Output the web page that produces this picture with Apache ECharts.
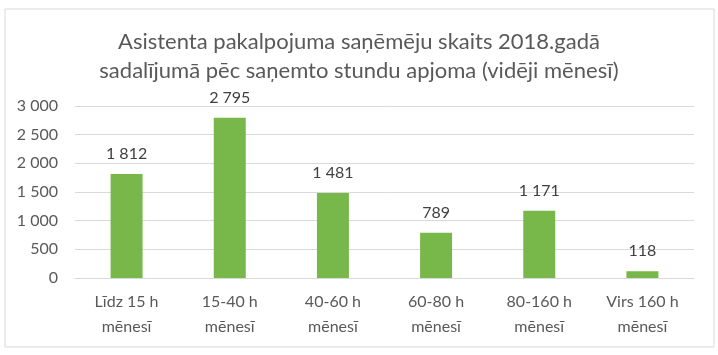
<!DOCTYPE html>
<html>
<head>
<meta charset="utf-8">
<script src="https://cdn.jsdelivr.net/npm/echarts@6/dist/echarts.min.js"></script>
<style>
  html, body { margin: 0; padding: 0; background: #fff; }
  #chart { width: 718px; height: 355px; }
</style>
</head>
<body>
<div id="chart"></div>
<script>
const categories = ["Līdz 15 h\nmēnesī", "15-40 h\nmēnesī", "40-60 h\nmēnesī", "60-80 h\nmēnesī", "80-160 h\nmēnesī", "Virs 160 h\nmēnesī"];
const values = [1812, 2795, 1481, 789, 1171, 118];
const titleText = "Asistenta pakalpojuma saņēmēju skaits 2018.gadā\nsadalījumā pēc saņemto stundu apjoma (vidēji mēnesī)";

const fmt = v => String(v).replace(/\B(?=(\d{3})+(?!\d))/g, " ");
const font = "Lato, sans-serif";

const chart = echarts.init(document.getElementById("chart"));
chart.setOption({
  animation: false,
  title: {
    text: titleText,
    left: "center",
    top: 22,
    textStyle: {
      fontFamily: font,
      fontSize: 22,
      fontWeight: "normal",
      color: "#595959",
      lineHeight: 29
    }
  },
  graphic: [{
    type: "rect",
    shape: { x: 5, y: 9, width: 709, height: 338 },
    style: { fill: "none", stroke: "#d9d9d9", lineWidth: 1 },
    silent: true
  }],
  grid: { left: 75, right: 24, top: 106, bottom: 77 },
  xAxis: {
    type: "category",
    data: categories,
    axisTick: { show: false },
    axisLine: { lineStyle: { color: "#d9d9d9" } },
    axisLabel: {
      fontFamily: font,
      fontSize: 16,
      color: "#595959",
      lineHeight: 25,
      margin: 11
    }
  },
  yAxis: {
    type: "value",
    min: 0,
    max: 3000,
    interval: 500,
    axisLine: { show: false },
    axisTick: { show: false },
    splitLine: { lineStyle: { color: "#d9d9d9" } },
    axisLabel: {
      fontFamily: font,
      fontSize: 16,
      color: "#595959",
      margin: 17,
      formatter: fmt
    }
  },
  series: [{
    type: "bar",
    data: values,
    barWidth: "31%",
    itemStyle: { color: "#78b84b" },
    label: {
      show: true,
      position: "top",
      distance: 12,
      fontFamily: font,
      fontSize: 16,
      color: "#404040",
      formatter: p => fmt(p.value)
    }
  }]
});
</script>
</body>
</html>
